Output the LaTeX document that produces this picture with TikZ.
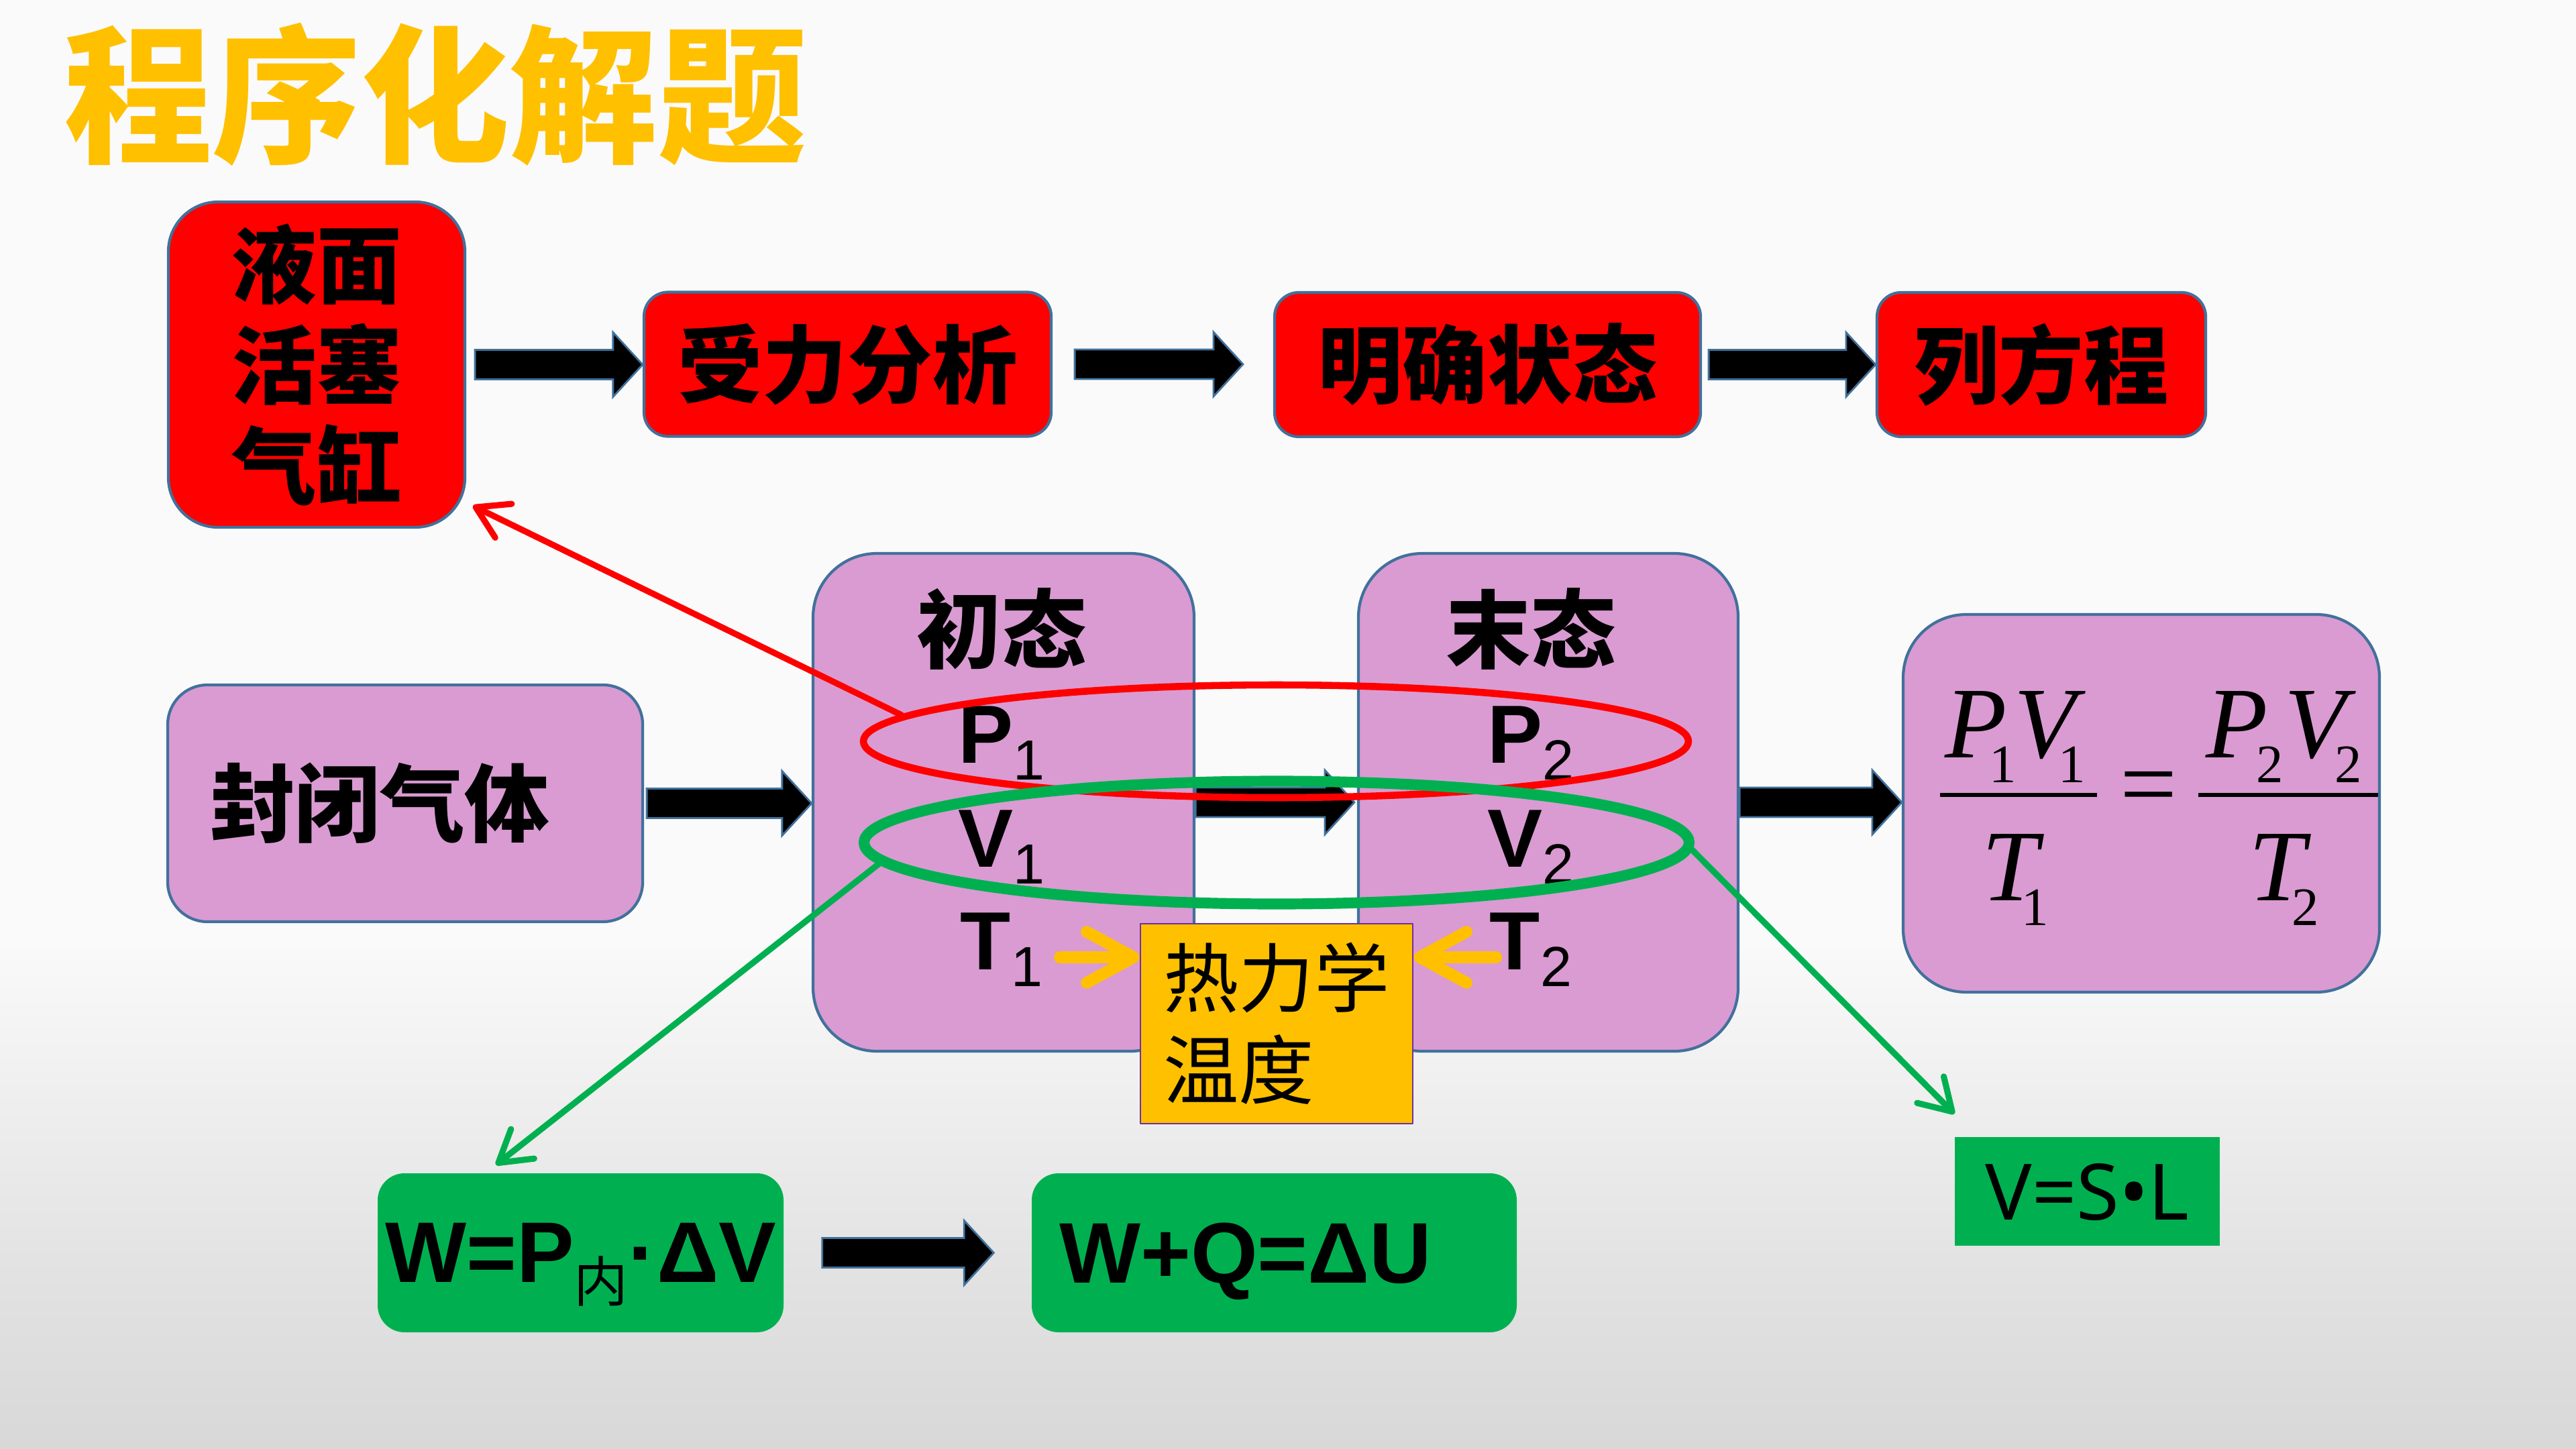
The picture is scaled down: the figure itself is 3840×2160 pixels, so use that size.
\documentclass[tikz,border=0pt]{standalone}
\usepackage{fontspec}
\setmainfont{Liberation Sans}
\newfontfamily\cjk{Noto Sans CJK SC}
\newfontfamily\lawfont{Liberation Serif}
\newfontfamily\plainsans{Noto Sans}
\usetikzlibrary{arrows.meta,calc,shapes.geometric}

\definecolor{boxred}{RGB}{255,0,0}
\definecolor{boxlilac}{RGB}{217,155,210}
\definecolor{boxgreen}{RGB}{0,176,80}
\definecolor{gold}{RGB}{255,192,0}
\definecolor{edgeblue}{RGB}{65,113,156}
\definecolor{edgepurple}{RGB}{112,48,160}
\definecolor{bgtop}{RGB}{250,250,250}
\definecolor{bgmid}{RGB}{226,226,226}
\definecolor{bgbottom}{RGB}{216,216,216}

% Bold state letter with a plain lowered index.
\newcommand{\statevar}[2]{{\bfseries #1}\raisebox{-2.5mm}{\fontsize{24pt}{24pt}\selectfont #2}}
% Index of the gas law.
\newcommand{\lawsub}[1]{\raisebox{-3.7mm}{\fontsize{23pt}{23pt}\selectfont #1}}
% Filled block arrow from #1 to the tip #2 (same height as #1).
\newcommand{\blockarrow}[2]{%
  \path[blockarrow] let \p1=#1, \p2=#2 in
    (\x1,\y1+2.2mm) -- (\x2-4.4mm,\y1+2.2mm) -- (\x2-4.4mm,\y1+4.8mm)
    -- (\x2,\y1) -- (\x2-4.4mm,\y1-4.8mm) -- (\x2-4.4mm,\y1-2.2mm)
    -- (\x1,\y1-2.2mm) -- cycle;}

\begin{document}
\begin{tikzpicture}[
  x=0.1mm,y=-0.1mm,
  line cap=round,line join=round,
  box/.style={draw=edgeblue,line width=1.2pt,inner sep=0pt},
  redbox/.style={box,fill=boxred,rounded corners=3.6mm,minimum height=21.5mm,
    align=center,font=\cjk\bfseries\fontsize{36pt}{42.7pt}\selectfont},
  lilacbox/.style={box,fill=boxlilac,rounded corners=9.5mm,
    font=\cjk\bfseries\fontsize{36pt}{42.7pt}\selectfont},
  greenbox/.style={fill=boxgreen,inner sep=0pt,rounded corners=4mm,
    minimum height=23.7mm,text depth=0pt,
    font=\bfseries\fontsize{36.5pt}{36.5pt}\selectfont},
  heading/.style={inner sep=0pt,font=\cjk\bfseries\fontsize{36pt}{36pt}\selectfont},
  varlabel/.style={anchor=base,inner sep=0pt,font=\fontsize{35pt}{35pt}\selectfont},
  lawtext/.style={anchor=base,inner sep=0pt,font=\lawfont\fontsize{43pt}{43pt}\selectfont},
  lawbar/.style={line width=1.7pt,line cap=butt},
  ring/.style={ellipse,inner sep=0pt},
  blockarrow/.style={fill=black,draw=edgeblue,line width=0.8pt,line join=miter},
  pointer/.style={-{Straight Barb[length=4.6mm,width=5.6mm,round]},line width=2.6pt},
  heatarrow/.style={-{Straight Barb[length=7mm,width=7.6mm,round]},line width=5pt,gold}
]
  \useasboundingbox (0,0) rectangle (3840,2160);

  % Slide background.
  \fill[bgtop] (0,0) rectangle (3840,2160);
  \shade[top color=bgtop,bottom color=bgmid] (0,1400) rectangle (3840,1900);
  \shade[top color=bgmid,bottom color=bgbottom] (0,1900) rectangle (3840,2160);

  \node[inner sep=0pt,text=gold,font=\cjk\bfseries\fontsize{63pt}{63pt}\selectfont]
    (title) at (649,141) {程序化解题};

  % Upper chain.
  \node[redbox,minimum width=44.2mm,minimum height=48.5mm,rounded corners=7.4mm]
    (lqs) at (472,543.5) {液面\\活塞\\气缸};
  \node[redbox,minimum width=60.7mm] (force) at (1263.5,543) {受力分析};
  \node[redbox,minimum width=63.5mm] (state) at (2217.5,543.5) {明确状态};
  \node[redbox,minimum width=49mm] (eqn) at (3043,543.5) {列方程};

  \blockarrow{([xshift=1.3mm]lqs.east)}{(force.west)}
  \blockarrow{([xshift=3.3mm]force.east)}{([xshift=-4.5mm]state.west)}
  \blockarrow{([xshift=1mm]state.east)}{(eqn.west)}

  % Middle chain.
  \node[lilacbox,rounded corners=5.9mm,inner xsep=6.3mm,text width=58.2mm,
    align=left,minimum height=35.3mm] (gas) at (604,1197.5) {封闭气体};
  \node[lilacbox,minimum width=56.8mm,minimum height=74.2mm] (init) at (1496,1196) {};
  \node[lilacbox,minimum width=56.6mm,minimum height=74.2mm] (final) at (2308,1196) {};
  \node[lilacbox,minimum width=71mm,minimum height=56.3mm,rounded corners=9.4mm]
    (law) at (3192,1197.5) {};

  \blockarrow{([xshift=0.4mm]gas.east)}{(init.west)}
  \blockarrow{(init.east)}{([xshift=-0.4mm]final.west)}
  \blockarrow{(final.east)}{(law.west)}

  \foreach \side/\col/\num/\head in {init/1493/1/初态,final/2282/2/末态}{
    \node[heading] (\side-head) at (\col,938) {\head};
    \node[varlabel] (\side-P) at (\col,1137) {\statevar{P}{\num}};
    \node[varlabel] (\side-V) at (\col,1292) {\statevar{V}{\num}};
    \node[varlabel] (\side-T) at (\col,1445) {\statevar{T}{\num}};
  }

  % Gas law.
  \node[lawtext] (law-num1) at (3004,1129)
    {{\itshape P}\kern-2.6mm\lawsub{1}\kern-0.4mm{\itshape V}\kern-2.6mm\lawsub{1}};
  \node[lawtext] (law-den1) at (3004,1342) {{\itshape T}\kern-2.5mm\lawsub{1}};
  \node[lawtext,anchor=center] (law-eq) at (3203,1185) {=};
  \node[lawtext] (law-num2) at (3405,1129)
    {{\itshape P}\kern-1.8mm\lawsub{2}\kern0.2mm{\itshape V}\kern-1.7mm\lawsub{2}};
  \node[lawtext] (law-den2) at (3405,1342) {{\itshape T}\kern-2mm\lawsub{2}};
  \draw[lawbar] (2892,1185) -- (3126,1185);
  \draw[lawbar] (3277,1185) -- (3545,1185);

  % Grouped quantities.
  \node[ring,draw=boxred,line width=3pt,minimum width=123mm,minimum height=16.8mm]
    (pring) at (1902,1105) {};
  \node[ring,draw=boxgreen,line width=4.6pt,minimum width=123mm,minimum height=18.3mm]
    (vring) at (1903,1256) {};

  % Temperature link.
  \node[fill=gold,draw=edgepurple,line width=0.8pt,inner sep=0pt,
    minimum width=40.6mm,minimum height=29.8mm,align=left,
    font=\cjk\fontsize{32pt}{39pt}\selectfont] (heat) at (1903,1526) {热力学\\温度};
  \coordinate (t1mark) at ([yshift=1.8mm]init-T.base east);
  \coordinate (t2mark) at ([yshift=1.8mm]final-T.base west);
  \draw[heatarrow] ([xshift=2.5mm]t1mark) -- (t1mark -| heat.west);
  \draw[heatarrow] ([xshift=1mm]t2mark) -- (t2mark -| heat.east);

  % Lower chain.
  \node[greenbox,minimum width=60.5mm] (work) at (865.5,1867.5)
    {W=P\raisebox{-2.9mm}{\cjk\mdseries\fontsize{23pt}{23pt}\selectfont 内}·ΔV};
  \node[greenbox,inner xsep=4.1mm,text width=64.1mm,align=left]
    (first) at (1899.5,1867.5) {W+Q=ΔU};
  \node[fill=boxgreen,inner sep=0pt,minimum width=39.5mm,minimum height=16.2mm,
    text depth=0pt,font=\plainsans\fontsize{33pt}{33pt}\selectfont]
    (vsl) at (3111.5,1776) {V=S•L};

  \blockarrow{([xshift=5.7mm]work.east)}{([xshift=-5.6mm]first.west)}

  % Pointers out of the rings.
  \draw[pointer,boxred] (pring.176) -- ([xshift=1mm,yshift=3.4mm]lqs.south east);
  \draw[pointer,boxgreen] (vring.183) -- ([xshift=17.7mm,yshift=1.2mm]work.north west);
  \draw[pointer,boxgreen] (vring.-1) -- ([yshift=3.4mm]vsl.north west);
\end{tikzpicture}
\end{document}
